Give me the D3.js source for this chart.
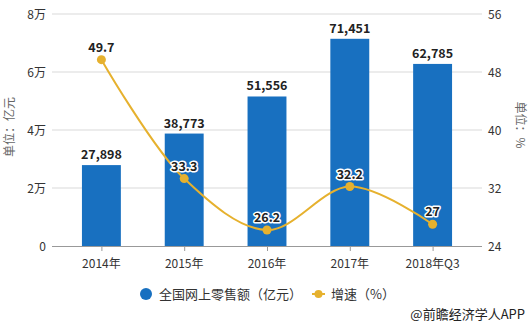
<!DOCTYPE html>
<html><head><meta charset="utf-8">
<script src="https://cdn.jsdelivr.net/npm/d3@7"></script>
<style>
body{margin:0;background:#fff;}
text{font-family:"Microsoft YaHei","Noto Sans CJK SC",sans-serif;}
</style></head>
<body><svg id="c" width="530" height="326"></svg>
<script>
const categories = ["2014年","2015年","2016年","2017年","2018年Q3"];
const sales = [27898, 38773, 51556, 71451, 62785];
const growth = [49.7, 33.3, 26.2, 32.2, 27];
const leftTicks = [0, 20000, 40000, 60000, 80000];
const leftTickLabels = ["0","2万","4万","6万","8万"];
const rightTicks = [24, 32, 40, 48, 56];

const svg = d3.select("#c");
const x = d3.scaleBand().domain(categories).range([60, 474]).paddingInner(0.53).paddingOuter(0.265);
const yL = d3.scaleLinear().domain([0, 80000]).range([246, 14]);
const yR = d3.scaleLinear().domain([24, 56]).range([246, 14]);
const cx = d => x(d) + x.bandwidth()/2;

// gridlines
svg.append("g").selectAll("line").data(leftTicks.slice(1)).join("line")
  .attr("x1", 52).attr("x2", 482).attr("y1", d=>yL(d)).attr("y2", d=>yL(d))
  .attr("stroke", "#d9d9d9").attr("stroke-width", 1);
// axis line
svg.append("line").attr("x1", 52).attr("x2", 482).attr("y1", yL(0)+0.5).attr("y2", yL(0)+0.5)
  .attr("stroke", "#999");

// left ticks
svg.append("g").selectAll("text").data(leftTicks).join("text")
  .attr("x", 46).attr("y", d=>yL(d)+4.5).attr("text-anchor","end")
  .attr("font-size", 12).attr("fill","#333").text((d,i)=>leftTickLabels[i]);
// right ticks
svg.append("g").selectAll("text").data(rightTicks).join("text")
  .attr("x", 488).attr("y", d=>yR(d)+4.5).attr("text-anchor","start")
  .attr("font-size", 12).attr("fill","#333").text(d=>d);

// x ticks
svg.append("g").selectAll("line").data(categories).join("line")
  .attr("x1", d=>cx(d)+0.5).attr("x2", d=>cx(d)+0.5).attr("y1", 246).attr("y2", 251)
  .attr("stroke","#999");
svg.append("g").selectAll("text").data(categories).join("text")
  .attr("x", d=>cx(d)).attr("y", 268).attr("text-anchor","middle")
  .attr("font-size", 12).attr("fill","#333").text(d=>d);

// axis titles
svg.append("text").attr("transform","translate(14,127) rotate(-90)").attr("text-anchor","middle")
  .attr("font-size",12).attr("fill","#666").text("单位：亿元");
svg.append("text").attr("transform","translate(516,125) rotate(90)").attr("text-anchor","middle")
  .attr("font-size",12).attr("fill","#666").text("单位：%");

// bars
svg.append("g").selectAll("rect").data(sales).join("rect")
  .attr("x", (d,i)=>x(categories[i])).attr("width", x.bandwidth())
  .attr("y", d=>yL(d)).attr("height", d=>yL(0)-yL(d)).attr("fill","#1870c0");
svg.append("g").selectAll("text").data(sales).join("text")
  .attr("x", (d,i)=>cx(categories[i])).attr("y", d=>yL(d)-6).attr("text-anchor","middle")
  .attr("font-size",12.5).attr("font-weight","bold").attr("fill","#222")
  .text(d=>d3.format(",")(d));

// line
const line = d3.line().x((d,i)=>cx(categories[i])).y(d=>yR(d)).curve(d3.curveCatmullRom.alpha(0.5));
svg.append("path").datum(growth).attr("d", line).attr("fill","none")
  .attr("stroke","#e6b12e").attr("stroke-width",2);
svg.append("g").selectAll("circle").data(growth).join("circle")
  .attr("cx",(d,i)=>cx(categories[i])).attr("cy", d=>yR(d)).attr("r",4.5).attr("fill","#e6b12e");
svg.append("g").selectAll("text").data(growth).join("text")
  .attr("x",(d,i)=>cx(categories[i])).attr("y", d=>yR(d)-8).attr("text-anchor","middle")
  .attr("font-size",12.5).attr("font-weight","bold").attr("fill","#222")
  .attr("stroke","#fff").attr("stroke-width",3).attr("paint-order","stroke").attr("stroke-linejoin","round")
  .text(d=>d);

// legend
svg.append("circle").attr("cx",146).attr("cy",294).attr("r",6).attr("fill","#1870c0");
svg.append("text").attr("x",159).attr("y",298.5).attr("font-size",13).attr("fill","#333").text("全国网上零售额（亿元）");
svg.append("line").attr("x1",312).attr("x2",325).attr("y1",294).attr("y2",294).attr("stroke","#e6b12e").attr("stroke-width",2);
svg.append("circle").attr("cx",318.5).attr("cy",294).attr("r",4).attr("fill","#e6b12e");
svg.append("text").attr("x",331).attr("y",298.5).attr("font-size",13).attr("fill","#333").text("增速（%）");

// source
svg.append("text").attr("x",525).attr("y",319).attr("text-anchor","end").attr("font-size",13).attr("fill","#222").text("@前瞻经济学人APP");
</script></body></html>
